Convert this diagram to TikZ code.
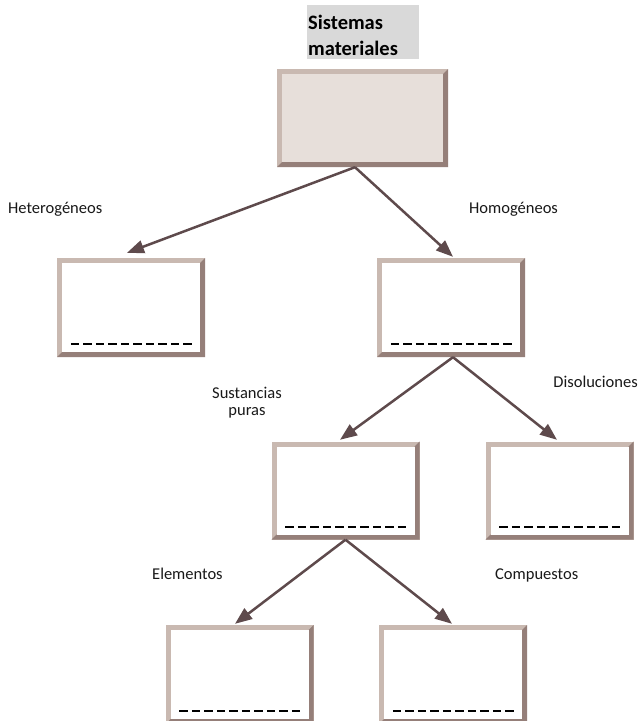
\documentclass[tikz,border=0pt]{standalone}
\usepackage{fontspec}
\setmainfont{Carlito}
\usetikzlibrary{arrows.meta}
\definecolor{bevlight}{HTML}{C9B9B1}
\definecolor{bevdark}{HTML}{957F79}
\definecolor{toppink}{HTML}{E7DFDA}
\definecolor{titlegray}{HTML}{D9D9D9}
\definecolor{arrowc}{HTML}{5E4A4C}
\tikzset{
  bevbox/.style={rectangle, inner sep=0pt, minimum width=148pt, minimum height=99pt,
    fill=bevlight,
    path picture={
      \fill[bevdark] (path picture bounding box.south west)
        -- (path picture bounding box.south east)
        -- (path picture bounding box.north east)
        -- ([xshift=-5pt,yshift=-5pt]path picture bounding box.north east)
        -- ([xshift=-5pt,yshift=5pt]path picture bounding box.south east)
        -- ([xshift=5pt,yshift=5pt]path picture bounding box.south west) -- cycle;
      \fill[#1] ([xshift=5pt,yshift=5pt]path picture bounding box.south west)
        rectangle ([xshift=-5pt,yshift=-5pt]path picture bounding box.north east);
    }},
  bevbox/.default=white,
  dashline/.style={black, line width=2.4pt, dash pattern=on 8.5pt off 4pt},
  conn/.style={arrowc, line width=2.5pt, -{Triangle[length=17pt,width=13pt]}},
  lbl/.style={inner sep=0pt, font=\fontsize{16.5}{17}\selectfont, text=black!90},
}
\newcommand{\blankline}[1]{\draw[dashline] ([xshift=14pt,yshift=13pt]#1.south west) -- ([xshift=-13pt,yshift=13pt]#1.south east);}
\begin{document}
\begin{tikzpicture}[x=1pt,y=-1pt]
\useasboundingbox (0,0) rectangle (639,721);
\fill[white] (0,0) rectangle (639,721);

% title
\node[fill=titlegray, anchor=north west, inner xsep=1pt, inner ysep=0pt, text width=110pt, align=left,
      font=\fontsize{20.5}{26}\selectfont\bfseries] (title) at (307,5)
  {\rule{0pt}{24pt}Sistemas\\materiales\rule[-4pt]{0pt}{4pt}};

% boxes
\node[bevbox=toppink, minimum width=171pt, minimum height=98pt] (top) at (362.5,118) {};
\node[bevbox] (het) at (131,307.5) {};
\node[bevbox] (hom) at (451,307.5) {};
\node[bevbox, minimum height=98pt] (sus) at (345.5,490.5) {};
\node[bevbox, minimum height=98pt] (dis) at (559.5,490.5) {};
\node[bevbox] (ele) at (239.5,674.5) {};
\node[bevbox] (com) at (453,674.5) {};

\blankline{het}
\blankline{hom}
\blankline{sus}
\blankline{dis}
\blankline{ele}
\blankline{com}

% connectors
\draw[conn] ([xshift=-7.5pt]top.south) -- ([xshift=-4pt,yshift=5pt]het.north);
\draw[conn] ([xshift=-7.5pt]top.south) -- ([xshift=2pt,yshift=1pt]hom.north);
\draw[conn] ([xshift=2pt]hom.south) -- ([xshift=-5.5pt,yshift=1.5pt]sus.north);
\draw[conn] ([xshift=2pt]hom.south) -- ([xshift=-2.5pt,yshift=1.5pt]dis.north);
\draw[conn] (sus.south) -- ([xshift=-4.5pt,yshift=1pt]ele.north);
\draw[conn] (sus.south) -- ([xshift=-1pt,yshift=1pt]com.north);

% labels
\node[lbl, anchor=base west] (lhet) at (8,213) {Heterogéneos};
\node[lbl, anchor=base west] (lhom) at (469,213) {Homogéneos};
\node[lbl, anchor=base, align=center] (lsus) at (247,415) {Sustancias\\puras};
\node[lbl, anchor=base east] (ldis) at (638,387) {Disoluciones};
\node[lbl, anchor=base west] (lele) at (152,579) {Elementos};
\node[lbl, anchor=base west] (lcom) at (495,579) {Compuestos};
\end{tikzpicture}
\end{document}
